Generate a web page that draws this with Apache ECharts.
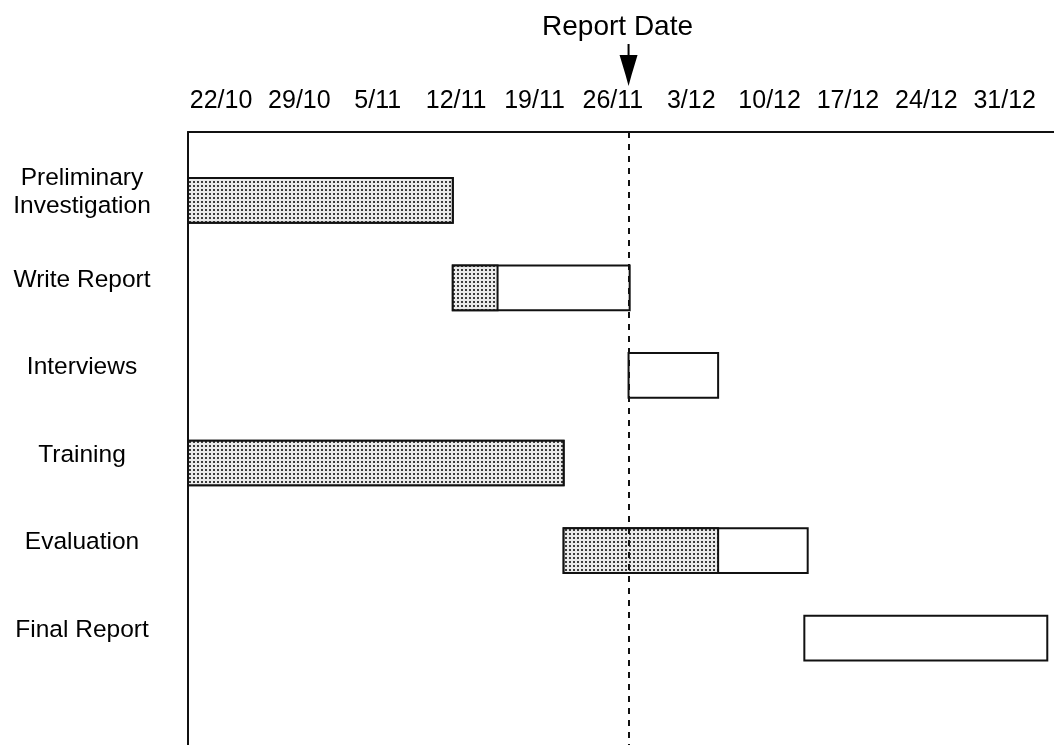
<!DOCTYPE html>
<html>
<head>
<meta charset="utf-8">
<script src="https://cdn.jsdelivr.net/npm/echarts@6/dist/echarts.min.js"></script>
<style>
html,body{margin:0;padding:0;background:#fff;}
#chart{width:1054px;height:745px;}
</style>
</head>
<body>
<div id="chart"></div>
<script>
// ---- data (days counted from 22/10) ----
const categories = ['Preliminary\nInvestigation', 'Write Report', 'Interviews', 'Training', 'Evaluation', 'Final Report'];
const startDays = [-2.95, 20.7, 36.4, -2.95, 30.6, 52.1];
const doneDays  = [20.7, 24.7, 36.4, 30.6, 44.4, 52.1];
const endDays   = [20.7, 36.5, 44.4, 30.6, 52.4, 73.8];
const tickDays   = [0, 7, 14, 21, 28, 35, 42, 49, 56, 63, 70];
const tickLabels = ['22/10', '29/10', '5/11', '12/11', '19/11', '26/11', '3/12', '10/12', '17/12', '24/12', '31/12'];
const reportDay = 36.4;
const reportLabel = 'Report Date';

// dotted fill pattern for completed work
const tile = document.createElement('canvas');
tile.width = 4; tile.height = 4;
const tctx = tile.getContext('2d');
tctx.fillStyle = '#eaeaea'; tctx.fillRect(0, 0, 4, 4);
tctx.fillStyle = '#3c3c3c';
tctx.fillRect(1, 1, 2, 2);

const taskData = categories.map((c, i) => [i, startDays[i], endDays[i], doneDays[i]]);

const chart = echarts.init(document.getElementById('chart'));
const FONT = "'Liberation Sans', Arial, sans-serif";

chart.setOption({
  animation: false,
  backgroundColor: '#fff',
  grid: { left: 188, right: 0, top: 132, bottom: 0 },
  xAxis: {
    type: 'value', position: 'top', min: -2.95, max: 74.4,
    axisLine: { show: true, onZero: false, lineStyle: { color: '#111', width: 2 } },
    axisTick: { show: false }, splitLine: { show: false },
    axisLabel: {
      customValues: tickDays,
      formatter: v => tickLabels[tickDays.indexOf(Math.round(v))] || '',
      color: '#000', fontSize: 25, fontFamily: FONT,
      margin: 18
    }
  },
  yAxis: {
    type: 'value', inverse: true, min: 0, max: 7,
    axisLine: { show: true, onZero: false, lineStyle: { color: '#111', width: 2 } },
    axisTick: { show: false }, splitLine: { show: false },
    axisLabel: {
      customValues: categories.map((c, i) => i + 0.69),
      formatter: v => categories[Math.floor(v)] || '',
      color: '#000', fontSize: 24.5, fontFamily: FONT, lineHeight: 28,
      align: 'center', margin: 106
    }
  },
  series: [{
    type: 'custom',
    data: taskData,
    encode: { x: [1, 2, 3], y: 0 },
    renderItem: function (params, api) {
      const idx = api.value(0), s = api.value(1), e = api.value(2), d = api.value(3);
      const yc = idx + 0.78;
      const p0 = api.coord([s, yc]);
      const p1 = api.coord([e, yc]);
      const pd = api.coord([d, yc]);
      const h = api.size([0, 1])[1] * 0.51;
      const children = [{
        type: 'rect',
        shape: { x: p0[0], y: p0[1] - h / 2, width: p1[0] - p0[0], height: h },
        style: { fill: '#fff', stroke: '#111', lineWidth: 2 }
      }];
      if (d > s) {
        children.push({
          type: 'rect',
          shape: { x: p0[0], y: p0[1] - h / 2, width: pd[0] - p0[0], height: h },
          style: { fill: { image: tile, repeat: 'repeat' }, stroke: '#111', lineWidth: 2 }
        });
      }
      return { type: 'group', children: children };
    },
    markLine: {
      silent: true, symbol: 'none', animation: false,
      label: { show: false },
      lineStyle: { color: '#111', width: 2, type: [6, 6] },
      data: [{ xAxis: reportDay }]
    }
  }]
});

const rx = chart.convertToPixel({ xAxisIndex: 0 }, reportDay);
chart.setOption({
  graphic: [
    { type: 'text', x: rx - 11, y: 27,
      style: { text: reportLabel, fontSize: 28, fontFamily: FONT, fill: '#000', align: 'center', verticalAlign: 'middle' } },
    { type: 'line', shape: { x1: rx, y1: 44, x2: rx, y2: 57 }, style: { stroke: '#000', lineWidth: 2 } },
    { type: 'polygon', shape: { points: [[rx - 9, 55], [rx + 9, 55], [rx + 3, 75], [rx, 86], [rx - 3, 75]] }, style: { fill: '#000' } }
  ]
});
</script>
</body>
</html>
